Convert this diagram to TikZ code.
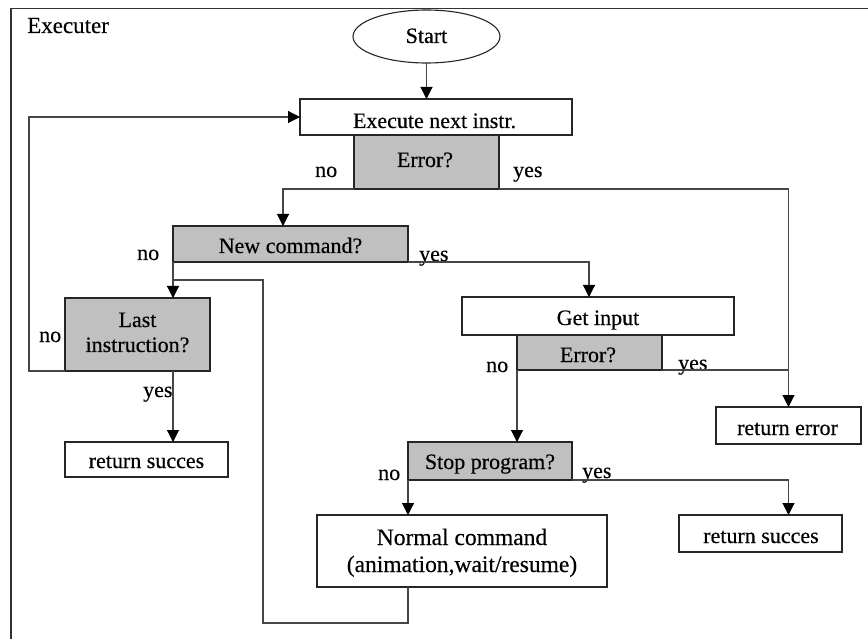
\documentclass[tikz,border=0pt]{standalone}
\usepackage{fontspec}
\setmainfont[FakeBold=0.35]{Liberation Serif}
\usetikzlibrary{arrows.meta,shapes.geometric}

\definecolor{decisiongray}{RGB}{192,192,192}
\definecolor{linegray}{RGB}{70,70,70}

\tikzset{
  lbl/.style={font=\fontsize{22}{26}\selectfont, inner sep=0pt, anchor=base},
  lblw/.style={lbl, anchor=base west},
  boxshape/.style={draw=black!85, line width=1.1pt, inner sep=0pt, outer sep=0pt},
  actionbox/.style={boxshape, fill=white},
  decisionbox/.style={boxshape, fill=decisiongray},
  startshape/.style={boxshape, ellipse, fill=white},
  conn/.style={draw=linegray, line width=1.1pt},
  arr/.style={conn, -{Triangle[length=12pt,width=12pt,color=black]}},
  framebar/.style={draw=black!80, line width=1.6pt}
}

\begin{document}
\begin{tikzpicture}[x=1pt,y=-1pt]
\useasboundingbox (0,0) rectangle (868,639);

% enclosing frame (top and left edges)
\draw[framebar] (11,639) -- (11,8.5) -- (868,8.5);
\node[lblw, font=\fontsize{23}{27}\selectfont] (title) at (27,33) {Executer};

% shapes
\node[startshape, minimum width=147, minimum height=53] (start) at (426.5,36.5) {};
\node[actionbox, minimum width=272, minimum height=36] (exec) at (436,117) {};
\node[decisionbox, minimum width=145, minimum height=54] (err1) at (426.5,162) {};
\node[decisionbox, minimum width=235, minimum height=36] (newcmd) at (290.5,244) {};
\node[decisionbox, minimum width=145, minimum height=73] (last) at (137.5,334.5) {};
\node[actionbox, minimum width=163, minimum height=35] (retsuccA) at (146.5,459.5) {};
\node[actionbox, minimum width=272, minimum height=38] (getin) at (598,316) {};
\node[decisionbox, minimum width=145, minimum height=35] (err2) at (589.5,352.5) {};
\node[actionbox, minimum width=145, minimum height=37] (reterr) at (788.5,425.5) {};
\node[decisionbox, minimum width=164, minimum height=38] (stop) at (490,461) {};
\node[actionbox, minimum width=290, minimum height=72] (normal) at (462,551) {};
\node[actionbox, minimum width=163, minimum height=37] (retsuccB) at (760.5,533.5) {};

% texts inside the shapes
\node[lbl] (tStart) at (426.5,43) {Start};
\node[lbl] (tExec) at (434.5,128) {Execute next instr.};
\node[lbl] (tErr1) at (425,167) {Error?};
\node[lbl] (tNew) at (290.5,253) {New command?};
\node[lbl] (tLast1) at (137.5,327) {Last};
\node[lbl] (tLast2) at (137.5,352) {instruction?};
\node[lbl] (tRetA) at (146.5,468) {return succes};
\node[lbl] (tGet) at (598,325) {Get input};
\node[lbl] (tErr2) at (588,362) {Error?};
\node[lbl] (tRetErr) at (787.5,435) {return error};
\node[lbl] (tStop) at (490,469) {Stop program?};
\node[lbl, font=\fontsize{23.5}{27}\selectfont] (tNorm1) at (462,545) {Normal command};
\node[lbl, font=\fontsize{23.5}{27}\selectfont] (tNorm2) at (462,572) {(animation,wait/resume)};
\node[lbl] (tRetB) at (761,543) {return succes};

% branch labels
\node[lblw] (no1) at (315,177) {no};
\node[lblw] (yes1) at (513,177) {yes};
\node[lblw] (no2) at (137,260) {no};
\node[lblw] (yes2) at (419,261) {yes};
\node[lblw] (no3) at (39,342) {no};
\node[lblw] (yes3) at (143,397) {yes};
\node[lblw] (no4) at (486,372) {no};
\node[lblw] (yes4) at (678,370) {yes};
\node[lblw] (no5) at (378,480) {no};
\node[lblw] (yes5) at (582,478) {yes};

% bend points
\coordinate (bErrNo) at (283,189);
\coordinate (bNewYes) at (589,262);
\coordinate (bLastNo) at (29,371);
\coordinate (bLoopLow) at (263,623);
\coordinate (bLoopHigh) at (263,280);

% connectors
\draw[arr] (start.south) -- (start.south |- exec.north);
\draw[arr] (err1.south west) -- (bErrNo) -- (bErrNo |- newcmd.north);
\draw[arr] (err1.south east) -| (reterr.north);
\draw[arr] (newcmd.south east) -- (bNewYes) -- (bNewYes |- getin.north);
\draw[arr] (newcmd.south west) -- (newcmd.south west |- last.north);
\draw[arr] (last.south west) -- (bLastNo) |- (exec.west);
\draw[arr] (newcmd.south west |- last.south) -- (newcmd.south west |- retsuccA.north);
\draw[conn] (err2.south east) -- (err2.south east -| reterr.north);
\draw[arr] (err2.south west) -- (err2.south west |- stop.north);
\draw[arr] (stop.south east) -- (stop.south east -| reterr.north) -- (reterr.north |- retsuccB.north);
\draw[arr] (stop.south west) -- (stop.south west |- normal.north);
\draw[conn] (stop.south west |- normal.south) -- (stop.south west |- bLoopLow) -- (bLoopLow) -- (bLoopHigh) -- (bLoopHigh -| newcmd.south west);
\end{tikzpicture}
\end{document}
